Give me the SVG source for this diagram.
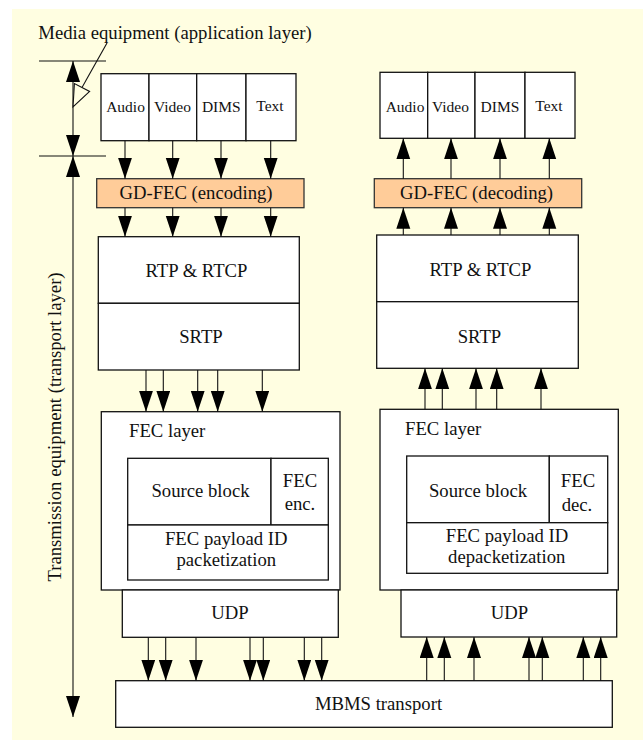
<svg xmlns="http://www.w3.org/2000/svg" width="643" height="740" viewBox="0 0 643 740">
<style>
text{font-family:"Liberation Serif","Times New Roman",serif;font-size:18.7px;fill:#111}
.s{font-size:15.5px}
.m{text-anchor:middle}
.box{fill:#fff;stroke:#111;stroke-width:1.3}
.fec{fill:#FFCC99;stroke:#333;stroke-width:1.3}
.ln{stroke:#111;stroke-width:1.1;fill:none}
.ar{stroke:#111;stroke-width:1.1;fill:none;marker-end:url(#ah)}
</style>
<defs>
<marker id="ah" markerUnits="userSpaceOnUse" markerWidth="22" markerHeight="15" refX="21" refY="7" orient="auto">
<path d="M0,0 L21,7 L0,14 z" fill="#000"/>
</marker>
</defs>
<rect x="12" y="9" width="631" height="731" fill="#FFFEE1"/>

<g id="axis">
<line class="ln" x1="39" y1="61" x2="106" y2="61"/>
<line class="ln" x1="39" y1="156" x2="106" y2="156"/>
<line class="ar" x1="73" y1="108" x2="73" y2="61"/>
<line class="ar" x1="73" y1="108" x2="73" y2="156"/>
<line class="ar" x1="73" y1="400" x2="73" y2="156"/>
<line class="ar" x1="73" y1="400" x2="73" y2="717"/>
<text x="175" y="39" class="m">Media equipment (application layer)</text>
<line class="ln" x1="107" y1="43" x2="82" y2="87.5"/>
<polygon points="73,107 74.4,83.6 89.6,91.4" fill="#FFFEE1" stroke="#111" stroke-width="1.1"/>
<text class="m" transform="translate(61,427) rotate(-90)">Transmission equipment (transport layer)</text>
</g>

<g id="enc-audio"><rect class="box" x="101" y="73.7" width="48" height="67"/><text class="s m" x="125.5" y="112">Audio</text></g>
<g id="enc-video"><rect class="box" x="149" y="73.7" width="47.7" height="67"/><text class="s m" x="172.5" y="112">Video</text></g>
<g id="enc-dims"><rect class="box" x="196.7" y="73.7" width="49.3" height="67"/><text class="s m" x="221.3" y="112">DIMS</text></g>
<g id="enc-text"><rect class="box" x="246" y="73.7" width="50" height="67"/><text class="s m" x="270" y="111">Text</text></g>

<g id="dec-audio"><rect class="box" x="380" y="72.3" width="47.7" height="66"/><text class="s m" x="405" y="112">Audio</text></g>
<g id="dec-video"><rect class="box" x="427.7" y="72.3" width="47.3" height="66"/><text class="s m" x="450.5" y="112">Video</text></g>
<g id="dec-dims"><rect class="box" x="475" y="72.3" width="50" height="66"/><text class="s m" x="500" y="112">DIMS</text></g>
<g id="dec-text"><rect class="box" x="525" y="72.3" width="50" height="66"/><text class="s m" x="549" y="111">Text</text></g>

<g id="gdfec-enc"><rect class="fec" x="96.7" y="178.7" width="207.3" height="29"/><text class="m" x="196" y="199">GD-FEC (encoding)</text></g>
<g id="gdfec-dec"><rect class="fec" x="374.3" y="178.7" width="207.4" height="29"/><text class="m" x="476.5" y="199">GD-FEC (decoding)</text></g>

<g id="rtp-enc"><rect class="box" x="98.3" y="236.7" width="201" height="66.6"/><text class="m" x="196.5" y="277">RTP &amp; RTCP</text></g>
<g id="srtp-enc"><rect class="box" x="98.3" y="303.3" width="201" height="66.7"/><text class="m" x="201" y="343">SRTP</text></g>
<g id="rtp-dec"><rect class="box" x="376.7" y="235" width="201.6" height="66.7"/><text class="m" x="480.5" y="276">RTP &amp; RTCP</text></g>
<g id="srtp-dec"><rect class="box" x="376.7" y="301.7" width="201.6" height="66.6"/><text class="m" x="479.5" y="343">SRTP</text></g>

<g id="feclayer-enc">
<rect class="box" x="101.3" y="411.7" width="238.7" height="178.3"/>
<text x="129" y="436.7">FEC layer</text>
<rect class="box" x="127.7" y="458.3" width="143.3" height="66.7"/>
<text class="m" x="200.5" y="497">Source block</text>
<rect class="box" x="271" y="458.3" width="57.3" height="66.7"/>
<text class="m" x="300" y="487.3">FEC</text>
<text class="m" x="300" y="510">enc.</text>
<rect class="box" x="127.7" y="525" width="200.6" height="55"/>
<text class="m" x="226.2" y="545">FEC payload ID</text>
<text class="m" x="226.3" y="565.7">packetization</text>
</g>

<g id="feclayer-dec">
<rect class="box" x="380" y="409.3" width="238.3" height="180.7"/>
<text x="405" y="435">FEC layer</text>
<rect class="box" x="406.7" y="456" width="142.6" height="66.7"/>
<text class="m" x="478" y="496.7">Source block</text>
<rect class="box" x="549.3" y="456" width="58.4" height="66.7"/>
<text class="m" x="578" y="487.3">FEC</text>
<text class="m" x="577" y="510.7">dec.</text>
<rect class="box" x="406.7" y="522.7" width="201" height="50.6"/>
<text class="m" x="507" y="541.7">FEC payload ID</text>
<text class="m" x="506.7" y="563.3">depacketization</text>
</g>

<g id="udp-enc"><rect class="box" x="122.3" y="590" width="216" height="47.3"/><text class="m" x="230" y="619">UDP</text></g>
<g id="udp-dec"><rect class="box" x="401" y="590" width="215.7" height="47"/><text class="m" x="509.5" y="619">UDP</text></g>

<g id="mbms"><rect class="box" x="115.7" y="680.7" width="496.6" height="46.6"/><text class="m" x="378.5" y="710">MBMS transport</text></g>

<g id="connectors">
<line class="ar" x1="125" y1="140.7" x2="125" y2="178.7"/>
<line class="ar" x1="172.7" y1="140.7" x2="172.7" y2="178.7"/>
<line class="ar" x1="221" y1="140.7" x2="221" y2="178.7"/>
<line class="ar" x1="270.7" y1="140.7" x2="270.7" y2="178.7"/>
<line class="ar" x1="125" y1="207.7" x2="125" y2="236.7"/>
<line class="ar" x1="172.7" y1="207.7" x2="172.7" y2="236.7"/>
<line class="ar" x1="221" y1="207.7" x2="221" y2="236.7"/>
<line class="ar" x1="270.7" y1="207.7" x2="270.7" y2="236.7"/>

<line class="ar" x1="403.3" y1="178.7" x2="403.3" y2="138.3"/>
<line class="ar" x1="451" y1="178.7" x2="451" y2="138.3"/>
<line class="ar" x1="500" y1="178.7" x2="500" y2="138.3"/>
<line class="ar" x1="549.3" y1="178.7" x2="549.3" y2="138.3"/>
<line class="ar" x1="403.3" y1="235" x2="403.3" y2="207.7"/>
<line class="ar" x1="451" y1="235" x2="451" y2="207.7"/>
<line class="ar" x1="500" y1="235" x2="500" y2="207.7"/>
<line class="ar" x1="549.3" y1="235" x2="549.3" y2="207.7"/>

<line class="ar" x1="146" y1="370" x2="146" y2="411.7"/>
<line class="ar" x1="163.3" y1="370" x2="163.3" y2="411.7"/>
<line class="ar" x1="197.7" y1="370" x2="197.7" y2="411.7"/>
<line class="ar" x1="217.7" y1="370" x2="217.7" y2="411.7"/>
<line class="ar" x1="262.3" y1="370" x2="262.3" y2="411.7"/>

<line class="ar" x1="425" y1="409.3" x2="425" y2="368.3"/>
<line class="ar" x1="442.3" y1="409.3" x2="442.3" y2="368.3"/>
<line class="ar" x1="476" y1="409.3" x2="476" y2="368.3"/>
<line class="ar" x1="496.7" y1="409.3" x2="496.7" y2="368.3"/>
<line class="ar" x1="541" y1="409.3" x2="541" y2="368.3"/>

<line class="ar" x1="148.3" y1="637.3" x2="148.3" y2="680.7"/>
<line class="ar" x1="165.7" y1="637.3" x2="165.7" y2="680.7"/>
<line class="ar" x1="196" y1="637.3" x2="196" y2="680.7"/>
<line class="ar" x1="250" y1="637.3" x2="250" y2="680.7"/>
<line class="ar" x1="263.3" y1="637.3" x2="263.3" y2="680.7"/>
<line class="ar" x1="304.3" y1="637.3" x2="304.3" y2="680.7"/>
<line class="ar" x1="321.7" y1="637.3" x2="321.7" y2="680.7"/>

<line class="ar" x1="426.7" y1="680.7" x2="426.7" y2="637"/>
<line class="ar" x1="444.3" y1="680.7" x2="444.3" y2="637"/>
<line class="ar" x1="474" y1="680.7" x2="474" y2="637"/>
<line class="ar" x1="529" y1="680.7" x2="529" y2="637"/>
<line class="ar" x1="542.3" y1="680.7" x2="542.3" y2="637"/>
<line class="ar" x1="583.3" y1="680.7" x2="583.3" y2="637"/>
<line class="ar" x1="600.7" y1="680.7" x2="600.7" y2="637"/>
</g>
</svg>
